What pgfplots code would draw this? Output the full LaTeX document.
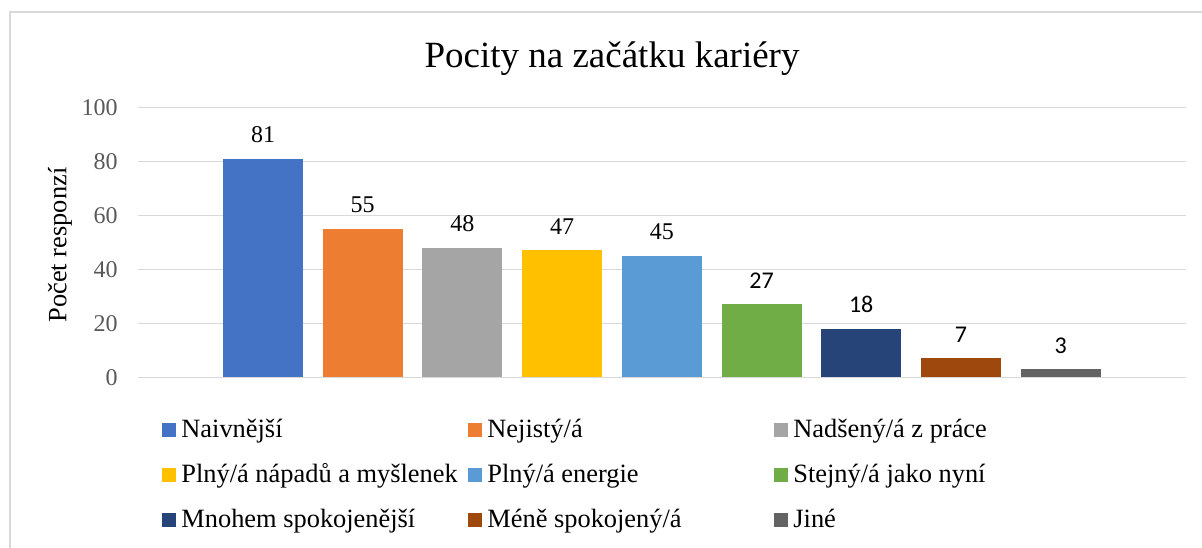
\documentclass[border=0pt]{standalone}
\usepackage{pgfplots}
\pgfplotsset{compat=1.18}
\usepackage{fontspec}
\setmainfont{Liberation Serif}
\newfontfamily\carlito{Carlito}
\definecolor{c1}{HTML}{4472C4}
\definecolor{c2}{HTML}{ED7D31}
\definecolor{c3}{HTML}{A5A5A5}
\definecolor{c4}{HTML}{FFC000}
\definecolor{c5}{HTML}{5B9BD5}
\definecolor{c6}{HTML}{70AD47}
\definecolor{c7}{HTML}{264478}
\definecolor{c8}{HTML}{9E480E}
\definecolor{c9}{HTML}{636363}
\definecolor{gridc}{HTML}{D9D9D9}
\definecolor{tickc}{HTML}{595959}
\newcommand{\legent}[1]{\makebox[143.3pt][l]{\rmfamily #1}}
\begin{document}
\begin{tikzpicture}
\useasboundingbox (0,0) rectangle (601pt,273.5pt);
\draw[gridc, line width=0.9pt] (5pt,-1pt) -- (5pt,267.5pt) -- (602pt,267.5pt);
\node[anchor=base, font=\rmfamily\fontsize{18.5}{22}\selectfont] at (306pt,239.7pt) {Pocity na začátku kariéry};
\begin{axis}[
  at={(69pt,84.85pt)}, anchor=south west,
  scale only axis, width=524pt, height=135pt,
  ybar, bar width=40pt,
  xmin=-1.254, xmax=9.258,
  ymin=0, ymax=100, ytick={0,20,...,100},
  xtick=\empty,
  axis line style={draw=none},
  major tick length=0pt,
  ymajorgrids, grid style={gridc, line width=0.75pt},
  /pgf/number format/assume math mode=true,
  yticklabel style={font=\rmfamily\fontsize{12}{14}\selectfont, text=tickc, inner sep=0pt},
  yticklabel shift=10pt,
  ylabel={Počet responzí},
  ylabel style={font=\rmfamily\fontsize{13.2}{15}\selectfont, at={(axis description cs:-0.0744,0.49)}, anchor=center},
  nodes near coords,
  every node near coord/.append style={anchor=base, inner sep=0pt, yshift=8pt, text=black},
  legend columns=3,
  legend image code/.code={\fill[#1] (0pt,-3.5pt) rectangle (7pt,3.5pt);},
  legend style={at={(0,0)}, anchor=north west, xshift=12pt, yshift=-20pt,
    draw=none, inner sep=0pt, outer sep=0pt, row sep=9.5pt,
    font=\rmfamily\fontsize{13.2}{15}\selectfont,
    nodes={inner sep=0pt, text height=10pt, text depth=3pt},
    /tikz/every odd column/.style={column sep=2.7pt},
    /tikz/every even column/.style={column sep=0pt}},
]
\addplot[fill=c1, draw=none, bar shift=0pt, nodes near coords={\rmfamily\fontsize{12}{14}\selectfont\pgfmathprintnumber{\pgfplotspointmeta}}] coordinates {(0,81)};
\addlegendentry{\legent{Naivnější}}
\addplot[fill=c2, draw=none, bar shift=0pt, nodes near coords={\rmfamily\fontsize{12}{14}\selectfont\pgfmathprintnumber{\pgfplotspointmeta}}] coordinates {(1,55)};
\addlegendentry{\legent{Nejistý/á}}
\addplot[fill=c3, draw=none, bar shift=0pt, nodes near coords={\rmfamily\fontsize{12}{14}\selectfont\pgfmathprintnumber{\pgfplotspointmeta}}] coordinates {(2,48)};
\addlegendentry{\legent{Nadšený/á z práce}}
\addplot[fill=c4, draw=none, bar shift=0pt, nodes near coords={\rmfamily\fontsize{12}{14}\selectfont\pgfmathprintnumber{\pgfplotspointmeta}}] coordinates {(3,47)};
\addlegendentry{\legent{Plný/á nápadů a myšlenek}}
\addplot[fill=c5, draw=none, bar shift=0pt, nodes near coords={\rmfamily\fontsize{12}{14}\selectfont\pgfmathprintnumber{\pgfplotspointmeta}}] coordinates {(4,45)};
\addlegendentry{\legent{Plný/á energie}}
\addplot[fill=c6, draw=none, bar shift=0pt, nodes near coords={\carlito\fontsize{12}{14}\selectfont\pgfmathprintnumber{\pgfplotspointmeta}}] coordinates {(5,27)};
\addlegendentry{\legent{Stejný/á jako nyní}}
\addplot[fill=c7, draw=none, bar shift=0pt, nodes near coords={\carlito\fontsize{12}{14}\selectfont\pgfmathprintnumber{\pgfplotspointmeta}}] coordinates {(6,18)};
\addlegendentry{\legent{Mnohem spokojenější}}
\addplot[fill=c8, draw=none, bar shift=0pt, nodes near coords={\carlito\fontsize{12}{14}\selectfont\pgfmathprintnumber{\pgfplotspointmeta}}] coordinates {(7,7)};
\addlegendentry{\legent{Méně spokojený/á}}
\addplot[fill=c9, draw=none, bar shift=0pt, nodes near coords={\carlito\fontsize{12}{14}\selectfont\pgfmathprintnumber{\pgfplotspointmeta}}] coordinates {(8,3)};
\addlegendentry{\legent{Jiné}}
\end{axis}
\end{tikzpicture}
\end{document}
